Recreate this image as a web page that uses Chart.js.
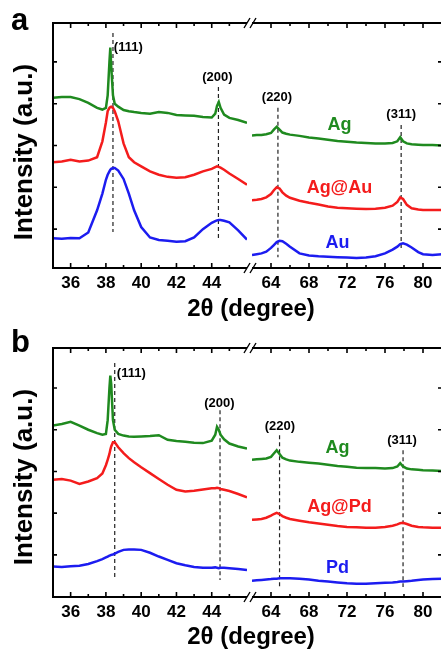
<!DOCTYPE html>
<html>
<head>
<meta charset="utf-8">
<script src="https://cdn.jsdelivr.net/npm/chart.js@4.4.0/dist/chart.umd.min.js"></script>
<style>
  body { margin: 0; background: #fff; }
  #wrap { position: relative; width: 441px; height: 650px; overflow: hidden; font-family: "Liberation Sans", Arial, sans-serif; font-weight: bold; color: #000; }
  canvas { position: absolute; }
  .t { position: absolute; white-space: nowrap; line-height: 1; }
</style>
</head>
<body>
<div id="wrap">
  <canvas id="aL" width="260" height="300" style="left:0;top:0"></canvas>
  <canvas id="aR" width="200" height="300" style="left:250px;top:0"></canvas>
  <canvas id="bL" width="260" height="300" style="left:0;top:325px"></canvas>
  <canvas id="bR" width="200" height="300" style="left:250px;top:325px"></canvas>

  <div class="t" style="left:11px;top:4px;font-size:31px">a</div>
  <div class="t" style="left:11px;top:326px;font-size:31px">b</div>
  <div class="t" style="left:23px;top:152px;font-size:26px;transform:translate(-50%,-50%) rotate(-90deg)">Intensity (a.u.)</div>
  <div class="t" style="left:23px;top:477px;font-size:26px;transform:translate(-50%,-50%) rotate(-90deg)">Intensity (a.u.)</div>
  <div class="t" style="left:251px;top:308px;font-size:24px;transform:translate(-50%,-50%)">2θ (degree)</div>
  <div class="t" style="left:251px;top:636px;font-size:24px;transform:translate(-50%,-50%)">2θ (degree)</div>
</div>
<script>
// ---- data (2θ in degrees, intensity in arbitrary offset units) ----
const xLeft = [35, 35.5, 36, 36.5, 37, 37.5, 37.8, 38.0, 38.1, 38.2, 38.25, 38.3, 38.4, 38.5, 38.7, 39.0, 39.3, 39.6, 40, 40.5, 41, 41.5, 42, 42.5, 43, 43.5, 44, 44.2, 44.3, 44.4, 44.5, 44.7, 45, 45.5, 46];
const xRight = [62, 62.5, 63, 63.5, 64, 64.3, 64.6, 64.9, 65.2, 65.6, 66, 67, 68, 69, 70, 71, 72, 73, 74, 75, 76, 76.8, 77.3, 77.6, 77.9, 78.3, 78.8, 79.5, 80, 81, 82];

// panel a
const agA_L   = [4.14, 4.16, 4.16, 4.11, 4.02, 3.90, 3.86, 3.90, 4.20, 5.00, 5.34, 4.90, 4.20, 4.00, 3.93, 3.85, 3.82, 3.80, 3.78, 3.76, 3.80, 3.78, 3.73, 3.72, 3.71, 3.68, 3.67, 3.76, 3.95, 4.04, 3.90, 3.74, 3.66, 3.61, 3.54];
const agauA_L = [2.60, 2.62, 2.66, 2.62, 2.64, 2.72, 3.10, 3.55, 3.82, 3.90, 3.92, 3.93, 3.90, 3.82, 3.58, 3.05, 2.72, 2.60, 2.50, 2.38, 2.30, 2.25, 2.23, 2.24, 2.30, 2.38, 2.44, 2.48, 2.50, 2.49, 2.47, 2.42, 2.33, 2.20, 2.06];
const auA_L   = [0.78, 0.77, 0.79, 0.78, 0.92, 1.45, 1.85, 2.18, 2.30, 2.38, 2.42, 2.44, 2.46, 2.46, 2.40, 2.20, 1.85, 1.45, 1.05, 0.80, 0.74, 0.72, 0.70, 0.71, 0.80, 1.00, 1.15, 1.19, 1.21, 1.22, 1.22, 1.20, 1.16, 0.97, 0.75];
const agA_R   = [3.24, 3.25, 3.25, 3.27, 3.30, 3.38, 3.45, 3.38, 3.31, 3.28, 3.26, 3.23, 3.19, 3.17, 3.14, 3.11, 3.09, 3.07, 3.06, 3.05, 3.05, 3.06, 3.10, 3.20, 3.10, 3.05, 3.03, 3.02, 3.01, 3.01, 3.00];
const agauA_R = [1.69, 1.70, 1.72, 1.76, 1.84, 1.93, 2.00, 1.97, 1.88, 1.80, 1.75, 1.68, 1.63, 1.59, 1.54, 1.51, 1.50, 1.49, 1.48, 1.49, 1.51, 1.56, 1.65, 1.76, 1.72, 1.58, 1.50, 1.47, 1.46, 1.46, 1.46];
const auA_R   = [0.38, 0.40, 0.42, 0.46, 0.55, 0.62, 0.69, 0.72, 0.71, 0.65, 0.58, 0.42, 0.37, 0.35, 0.34, 0.33, 0.32, 0.31, 0.32, 0.35, 0.42, 0.51, 0.58, 0.64, 0.66, 0.63, 0.56, 0.45, 0.40, 0.38, 0.40];

// panel b
const agB_L   = [4.10, 4.14, 4.19, 4.10, 4.00, 3.92, 3.88, 3.90, 4.23, 5.00, 5.30, 5.10, 4.23, 4.00, 3.90, 3.86, 3.84, 3.83, 3.84, 3.85, 3.87, 3.76, 3.73, 3.71, 3.69, 3.68, 3.74, 3.88, 4.07, 4.00, 3.88, 3.77, 3.67, 3.60, 3.55];
const agpdB_L = [2.80, 2.82, 2.78, 2.70, 2.76, 2.84, 2.95, 3.15, 3.28, 3.42, 3.52, 3.60, 3.70, 3.70, 3.58, 3.44, 3.32, 3.22, 3.10, 2.96, 2.82, 2.68, 2.56, 2.52, 2.54, 2.57, 2.60, 2.60, 2.61, 2.60, 2.58, 2.56, 2.53, 2.46, 2.38];
const pdB_L   = [0.72, 0.71, 0.73, 0.74, 0.78, 0.85, 0.90, 0.94, 0.96, 0.98, 0.99, 1.00, 1.01, 1.03, 1.07, 1.12, 1.13, 1.13, 1.12, 1.05, 0.96, 0.88, 0.80, 0.75, 0.71, 0.69, 0.69, 0.70, 0.69, 0.68, 0.69, 0.69, 0.68, 0.66, 0.64];
const agB_R   = [3.28, 3.29, 3.30, 3.31, 3.35, 3.43, 3.51, 3.42, 3.33, 3.29, 3.26, 3.23, 3.21, 3.19, 3.16, 3.13, 3.11, 3.09, 3.08, 3.08, 3.07, 3.08, 3.12, 3.20, 3.12, 3.07, 3.05, 3.04, 3.03, 3.02, 3.01];
const agpdB_R = [1.84, 1.85, 1.86, 1.89, 1.94, 1.98, 2.01, 1.98, 1.93, 1.89, 1.86, 1.82, 1.78, 1.75, 1.72, 1.69, 1.67, 1.66, 1.65, 1.65, 1.67, 1.70, 1.73, 1.76, 1.77, 1.74, 1.70, 1.67, 1.66, 1.65, 1.65];
const pdB_R   = [0.38, 0.39, 0.40, 0.41, 0.42, 0.43, 0.43, 0.44, 0.44, 0.44, 0.44, 0.43, 0.41, 0.38, 0.36, 0.34, 0.32, 0.31, 0.31, 0.32, 0.33, 0.34, 0.35, 0.36, 0.36, 0.37, 0.38, 0.40, 0.41, 0.42, 0.43];

// ticks
const xTicksLeft = [36, 38, 40, 42, 44];
const xMinorLeft = [37, 39, 41, 43, 45];
const xTicksRight = [64, 68, 72, 76, 80];
const xMinorRight = [66, 70, 74, 78];
const yTicks = [1, 2, 3, 4, 5];

// reflection markers: [2θ, top, bottom]
const dashA_L = [[38.4, 5.69, 0.93], [44.38, 4.40, 0.78]];
const dashA_R = [[64.73, 3.90, 0.33], [77.7, 3.49, 0.50]];
const dashB_L = [[38.5, 5.60, 0.40], [44.47, 4.47, 0.40]];
const dashB_R = [[64.9, 3.87, 0.23], [77.9, 3.51, 0.23]];

const GREEN = '#1f8a1f', RED = '#f41c1c', BLUE = '#1c1cf0';

Chart.defaults.font.family = '"Liberation Sans", Arial, sans-serif';

function curve(xs, ys, color) {
  return { data: xs.map((v, i) => ({ x: v, y: ys[i] })), borderColor: color, borderWidth: 2.5, pointRadius: 0, tension: 0 };
}
function dash(d) {
  return { data: [{ x: d[0], y: d[1] }, { x: d[0], y: d[2] }], borderColor: '#222', borderWidth: 1.2, borderDash: [4, 3], pointRadius: 0 };
}

// frame, inward ticks, axis break and text notes
const decor = {
  id: 'decor',
  afterDraw(chart, args, o) {
    const { ctx, chartArea: a, scales: { x, y } } = chart;
    ctx.save();
    ctx.strokeStyle = '#000';
    ctx.lineWidth = 2;
    ctx.beginPath();
    ctx.moveTo(a.left, a.top); ctx.lineTo(a.right, a.top);
    ctx.moveTo(a.left, a.bottom); ctx.lineTo(a.right, a.bottom);
    const sx = o.side === 'left' ? a.left : a.right;
    ctx.moveTo(sx, a.top - 1); ctx.lineTo(sx, a.bottom + 1);
    ctx.stroke();

    ctx.lineWidth = 1.6;
    ctx.beginPath();
    o.major.concat(o.minor).forEach(v => {
      const len = o.major.includes(v) ? 5 : 3;
      const px = x.getPixelForValue(v);
      ctx.moveTo(px, a.top); ctx.lineTo(px, a.top + len);
      ctx.moveTo(px, a.bottom); ctx.lineTo(px, a.bottom - len);
    });
    const dir = o.side === 'left' ? 1 : -1;
    yTicks.forEach(v => {
      const py = y.getPixelForValue(v);
      ctx.moveTo(sx, py); ctx.lineTo(sx + dir * 4, py);
    });
    ctx.stroke();

    if (o.side === 'left') {
      ctx.lineWidth = 1.4;
      ctx.beginPath();
      [a.top, a.bottom].forEach(yy => {
        [0, 6].forEach(dx => {
          ctx.moveTo(a.right + dx - 3, yy + 5);
          ctx.lineTo(a.right + dx + 3, yy - 5);
        });
      });
      ctx.stroke();
    }

    o.notes.forEach(n => {
      ctx.fillStyle = n.color || '#000';
      ctx.font = 'bold ' + n.size + 'px "Liberation Sans", Arial, sans-serif';
      ctx.textAlign = n.align || 'center';
      ctx.textBaseline = 'middle';
      ctx.fillText(n.text, x.getPixelForValue(n.x), y.getPixelForValue(n.y));
    });
    ctx.restore();
  }
};

function build(id, sets, xMin, xMax, yMin, yMax, labels, pad, decorOpts) {
  new Chart(document.getElementById(id), {
    type: 'line',
    data: { datasets: sets },
    plugins: [decor],
    options: {
      responsive: false,
      animation: false,
      layout: { padding: pad },
      plugins: { legend: { display: false }, tooltip: { enabled: false }, decor: decorOpts },
      scales: {
        x: {
          type: 'linear', min: xMin, max: xMax,
          grid: { display: false, drawTicks: false },
          border: { display: false },
          afterBuildTicks: s => { s.ticks = labels.map(v => ({ value: v })); },
          afterFit: s => { s.height = 24; },
          ticks: { color: '#000', font: { size: 17, weight: 'bold' }, padding: 5, maxRotation: 0, autoSkip: false }
        },
        y: { type: 'linear', display: false, min: yMin, max: yMax }
      }
    }
  });
}

// panel a
build('aL',
  [curve(xLeft, agA_L, GREEN), curve(xLeft, agauA_L, RED), curve(xLeft, auA_L, BLUE)].concat(dashA_L.map(dash)),
  35, 46, 0.07, 5.93, xTicksLeft, { left: 53, top: 23, right: 13, bottom: 8 },
  { side: 'left', major: xTicksLeft, minor: xMinorLeft, notes: [
    { x: 38.45, y: 5.34, text: '(111)', size: 13, align: 'left' },
    { x: 44.32, y: 4.64, text: '(200)', size: 13 }
  ] });
build('aR',
  [curve(xRight, agA_R, GREEN), curve(xRight, agauA_R, RED), curve(xRight, auA_R, BLUE)].concat(dashA_R.map(dash)),
  62, 82, 0.07, 5.93, xTicksRight, { left: 2, top: 23, right: 8, bottom: 8 },
  { side: 'right', major: xTicksRight, minor: xMinorRight, notes: [
    { x: 64.63, y: 4.16, text: '(220)', size: 13 },
    { x: 77.7, y: 3.75, text: '(311)', size: 13 },
    { x: 71.2, y: 3.49, text: 'Ag', size: 18, color: GREEN },
    { x: 71.2, y: 1.98, text: 'Ag@Au', size: 18, color: RED },
    { x: 71.0, y: 0.66, text: 'Au', size: 18, color: BLUE }
  ] });

// panel b
build('bL',
  [curve(xLeft, agB_L, GREEN), curve(xLeft, agpdB_L, RED), curve(xLeft, pdB_L, BLUE)].concat(dashB_L.map(dash)),
  35, 46, -0.01, 5.96, xTicksLeft, { left: 53, top: 23, right: 13, bottom: 4 },
  { side: 'left', major: xTicksLeft, minor: xMinorLeft, notes: [
    { x: 38.62, y: 5.36, text: '(111)', size: 13, align: 'left' },
    { x: 44.43, y: 4.64, text: '(200)', size: 13 }
  ] });
build('bR',
  [curve(xRight, agB_R, GREEN), curve(xRight, agpdB_R, RED), curve(xRight, pdB_R, BLUE)].concat(dashB_R.map(dash)),
  62, 82, -0.01, 5.96, xTicksRight, { left: 2, top: 23, right: 8, bottom: 4 },
  { side: 'right', major: xTicksRight, minor: xMinorRight, notes: [
    { x: 64.94, y: 4.09, text: '(220)', size: 13 },
    { x: 77.8, y: 3.75, text: '(311)', size: 13 },
    { x: 71.0, y: 3.56, text: 'Ag', size: 18, color: GREEN },
    { x: 71.2, y: 2.15, text: 'Ag@Pd', size: 18, color: RED },
    { x: 71.0, y: 0.69, text: 'Pd', size: 18, color: BLUE }
  ] });
</script>
</body>
</html>
